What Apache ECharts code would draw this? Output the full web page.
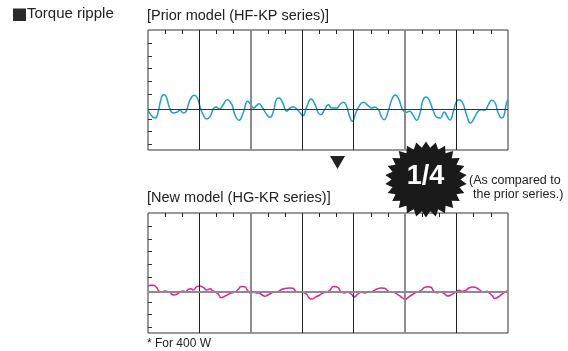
<!DOCTYPE html>
<html>
<head>
<meta charset="utf-8">
<script src="https://cdn.jsdelivr.net/npm/echarts@6/dist/echarts.min.js"></script>
<style>
    html, body { margin: 0; padding: 0; background: #fff; }
    #chart { width: 568px; height: 351px; }
</style>
</head>
<body>
<div id="chart"></div>
<script>
// time in screen divisions (0..7), ripple in arbitrary units (0 = centre line)
const priorSamples = [
    [0, -1.3], [0.07, -6.7], [0.14, -9.0], [0.2, -2.3], [0.25, 9.3], [0.3, 14.3], [0.35, 12.7], [0.42, 1.0],
    [0.49, -4.0], [0.56, -3.3], [0.62, -1.3], [0.69, -4.0], [0.74, -2.3], [0.82, 9.3], [0.9, 13.7], [0.96, 11.0],
    [1.01, 2.7], [1.08, -6.7], [1.14, -10.0], [1.21, -7.3], [1.27, 0], [1.32, 2.0], [1.39, 0], [1.45, 3.3],
    [1.54, 9.3], [1.63, 4.3], [1.69, -5.7], [1.77, -11.3], [1.85, -4.0], [1.94, 7.7], [2.0, 4.3], [2.05, 1.0],
    [2.11, 3.3], [2.16, 5.3], [2.22, 2.0], [2.31, -5.7], [2.37, -8.3], [2.44, -2.3], [2.5, 10.0], [2.55, 11.0],
    [2.62, 6.0], [2.7, -2.3], [2.76, 1.0], [2.83, 2.0], [2.89, 0], [2.96, -4.0], [3.01, -6.7], [3.09, 2.7],
    [3.17, 10.0], [3.25, 4.3], [3.31, -4.0], [3.36, -5.7], [3.44, 0], [3.51, 4.3], [3.57, 1.0], [3.67, 1.0],
    [3.73, 4.3], [3.8, 6.7], [3.85, 4.3], [3.92, -7.3], [3.97, -12.3], [4.04, -4.0], [4.11, 3.3], [4.19, 6.7],
    [4.28, 3.3], [4.35, 1.0], [4.41, 2.0], [4.48, -0.7], [4.54, -8.0], [4.59, -10.7], [4.67, -2.3], [4.74, 9.3],
    [4.81, 14.0], [4.88, 9.3], [4.95, -0.7], [5.02, -3.3], [5.08, -2.3], [5.15, -5.7], [5.22, -11.3], [5.29, -4.0],
    [5.35, 9.3], [5.41, 12.0], [5.47, 8.7], [5.55, -2.3], [5.61, -8.0], [5.68, -9.0], [5.76, -3.0], [5.81, -6.7],
    [5.87, -11.0], [5.94, -2.3], [5.99, 6.7], [6.05, 9.3], [6.12, 6.0], [6.2, -6.7], [6.27, -14.0], [6.36, -7.3],
    [6.42, -2.3], [6.49, -0.7], [6.55, -1.3], [6.62, 4.3], [6.68, 8.7], [6.75, 6.0], [6.81, -4.0], [6.88, -9.0],
    [6.92, -6.7], [6.97, 6.0], [7.0, 9.3]
]

const newSamples = [
    [0, 5.3], [0.04, 6.7], [0.1, 6.7], [0.17, 4.3], [0.21, 1.0], [0.27, 0], [0.32, 1.0], [0.36, 0.7],
    [0.43, -0.7], [0.49, -3.0], [0.56, -2.3], [0.62, 0], [0.69, 1.0], [0.73, 0], [0.78, 2.7], [0.83, 3.3],
    [0.88, 2.0], [0.95, 5.3], [1.01, 6.0], [1.08, 4.3], [1.14, 2.0], [1.21, 3.3], [1.26, 1.0], [1.32, 0],
    [1.37, -2.3], [1.42, -5.7], [1.5, -4.0], [1.56, -2.3], [1.63, -0.7], [1.69, 0], [1.76, 3.0], [1.81, 5.5],
    [1.88, 5.3], [1.94, 1.3], [2.0, -1.0], [2.04, -0.3], [2.11, -1.0], [2.15, -1.0], [2.22, -3.0], [2.27, -4.3],
    [2.33, -3.0], [2.4, -1.0], [2.46, 0.3], [2.51, -0.3], [2.56, 1.3], [2.62, 3.0], [2.69, 3.7], [2.75, 4.0],
    [2.82, 3.7], [2.86, 1.3], [2.92, -0.3], [2.97, 0.3], [3.01, -0.3], [3.08, -2.0], [3.14, -6.3], [3.19, -7.0],
    [3.25, -5.3], [3.34, -3.0], [3.4, -1.0], [3.47, -0.3], [3.53, 1.3], [3.61, 5.5], [3.69, 4.7], [3.75, 0.3],
    [3.82, -1.0], [3.88, -0.3], [3.95, -2.0], [4.01, -5.0], [4.08, -2.0], [4.14, -0.3], [4.21, -1.0], [4.27, 0.3],
    [4.32, -0.3], [4.39, 1.3], [4.45, 3.0], [4.53, 4.0], [4.6, 3.7], [4.66, 1.3], [4.71, -0.3], [4.78, 0.3],
    [4.81, -1.0], [4.89, -3.7], [4.95, -6.0], [5.0, -7.5], [5.06, -5.3], [5.13, -3.0], [5.19, -1.0], [5.26, 0.3],
    [5.32, 2.0], [5.37, 4.3], [5.43, 5.3], [5.5, 4.7], [5.56, 0.7], [5.63, -0.7], [5.69, 0], [5.76, -1.7],
    [5.83, -4.0], [5.9, -2.7], [5.98, 0], [6.05, 1.7], [6.11, 0.7], [6.18, 1.7], [6.24, 4.0], [6.33, 5.0],
    [6.39, 4.0], [6.46, 1.7], [6.52, 0], [6.59, 0.7], [6.63, -0.7], [6.7, -4.0], [6.74, -6.5], [6.81, -5.0],
    [6.87, -2.7], [6.92, -0.7], [6.97, 0.7], [7.0, 1.0]
]

const divisions = [1, 2, 3, 4, 5, 6]
const greyDivisions = [2, 5]
const topTicks = [0.333, 0.667, 1.333, 1.667, 2.333, 2.667, 3.333, 3.667, 4.333, 4.667, 5.333, 5.667, 6.333, 6.667]
const sideTicks = [-35, -22.5, -10, 15, 27.7, 40.3, 53, 65.5]

const FONT = '"Liberation Sans", Arial, Helvetica, sans-serif'
const chart = echarts.init(document.getElementById('chart'))

const makeX = (gridIndex) => ({
    type: 'value',
    gridIndex,
    min: 0,
    max: 7,
    position: 'top',
    axisLine: { show: false, onZero: false },
    axisLabel: { show: false },
    splitLine: { show: false },
    axisTick: {
        show: true,
        inside: true,
        length: 4,
        customValues: topTicks,
        lineStyle: { color: '#222', width: 1 },
    },
})

const makeY = (gridIndex) => ({
    type: 'value',
    gridIndex,
    min: -41,
    max: 79,
    axisLine: { show: false, onZero: false },
    axisLabel: { show: false },
    splitLine: { show: false },
    axisTick: {
        show: true,
        inside: true,
        length: 4,
        customValues: sideTicks,
        lineStyle: { color: '#333', width: 1 },
    },
})

const gridLines = (idx, centreStyle) => ({
    type: 'line',
    xAxisIndex: idx,
    yAxisIndex: idx,
    data: [],
    z: 1,
    silent: true,
    markLine: {
        symbol: 'none',
        silent: true,
        animation: false,
        label: { show: false },
        data: [
            ...divisions.map((d) => ({
                xAxis: d,
                lineStyle: greyDivisions.includes(d)
                    ? { color: '#8c8c8c', width: 2, type: 'solid' }
                    : { color: '#222', width: 1, type: 'solid' },
            })),
            { yAxis: 0, lineStyle: centreStyle },
        ],
    },
})

const signal = (idx, samples, color) => ({
    type: 'line',
    xAxisIndex: idx,
    yAxisIndex: idx,
    data: samples,
    z: 3,
    smooth: 0.5,
    symbol: 'none',
    animation: false,
    lineStyle: { color, width: 1.5 },
})

// starburst behind "1/4"
const starPoints = []
const spikes = 26
for (let i = 0; i < spikes * 2; i++) {
    const a = (Math.PI * i) / spikes - Math.PI / 2
    const r = i % 2 === 0 ? 1 : 0.84
    starPoints.push([426 + 41 * r * Math.cos(a), 179.5 + 38 * r * Math.sin(a)])
}

chart.setOption({
    animation: false,
    grid: [
        { left: 148, top: 30, width: 360, height: 120, show: true, borderColor: '#333', borderWidth: 1, backgroundColor: 'transparent' },
        { left: 148, top: 213, width: 360, height: 120, show: true, borderColor: '#333', borderWidth: 1, backgroundColor: 'transparent' },
    ],
    xAxis: [makeX(0), makeX(1)],
    yAxis: [makeY(0), makeY(1)],
    series: [
        gridLines(0, { color: '#333', width: 1.2, type: 'solid' }),
        gridLines(1, { color: '#8c8c8c', width: 2, type: 'solid' }),
        signal(0, priorSamples, '#1a9fdc'),
        signal(1, newSamples, '#ec1f8c'),
    ],
    graphic: [
        { type: 'rect', shape: { x: 13, y: 8.5, width: 13, height: 12.5 }, style: { fill: '#2a2a2a' } },
        { type: 'text', style: { text: 'Torque ripple', x: 27, y: 14.2, font: `15px ${FONT}`, fill: '#222', textVerticalAlign: 'middle' } },
        { type: 'text', style: { text: '[Prior model (HF-KP series)]', x: 147, y: 15.6, font: `14.5px ${FONT}`, fill: '#222', textVerticalAlign: 'middle' } },
        { type: 'text', style: { text: '[New model (HG-KR series)]', x: 147, y: 198.2, font: `14.5px ${FONT}`, fill: '#222', textVerticalAlign: 'middle' } },
        { type: 'text', style: { text: '* For 400 W', x: 147, y: 343.8, font: `12px ${FONT}`, fill: '#222', textVerticalAlign: 'middle' } },
        { type: 'polygon', shape: { points: [[330, 156], [345, 156], [337.5, 169]] }, style: { fill: '#222' } },
        { type: 'polygon', z: 10, shape: { points: starPoints }, style: { fill: '#1a1a1a' } },
        { type: 'text', z: 11, style: { text: '1/4', x: 425.5, y: 177, font: `bold 27px ${FONT}`, fill: '#fff', textAlign: 'center', textVerticalAlign: 'middle' } },
        { type: 'text', style: { text: '(As compared to', x: 469, y: 180.2, font: `12.5px ${FONT}`, fill: '#222', textVerticalAlign: 'middle' } },
        { type: 'text', style: { text: 'the prior series.)', x: 473, y: 194.2, font: `12.5px ${FONT}`, fill: '#222', textVerticalAlign: 'middle' } },
    ],
})
</script>
</body>
</html>
